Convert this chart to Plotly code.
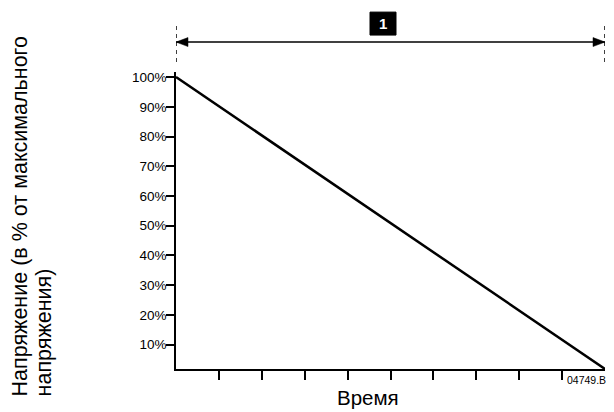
import plotly.graph_objects as go

# Data
time_points = [0, 10]
voltage_pct = [100, 1.8]
y_tick_values = [10, 20, 30, 40, 50, 60, 70, 80, 90, 100]
y_tick_labels = ["10%", "20%", "30%", "40%", "50%", "60%", "70%", "80%", "90%", "100%"]
x_tick_values = [1, 2, 3, 4, 5, 6, 7, 8, 9]
x_title = "Время"
y_title_lines = ["Напряжение (в % от максимального", "напряжения)"]
badge_label = "1"
drawing_code = "04749.B"

FONT = "Liberation Sans, Arial, sans-serif"

# page is offset by 8px body margin
W, H = 606, 404
L, R, T, B = 168, 9, 64, 42.5
PW = W - L - R
PH = H - T - B


def px(xpage):
    return (xpage - 8 - L) / PW


def py(ypage):
    return (H - B - (ypage - 8)) / PH


fig = go.Figure()
fig.add_trace(go.Scatter(
    x=time_points, y=voltage_pct, mode="lines",
    line=dict(color="black", width=2.5), showlegend=False, hoverinfo="skip",
    cliponaxis=False,
))

fig.update_layout(
    width=W, height=H,
    margin=dict(l=L, r=R, t=T, b=B),
    paper_bgcolor="white", plot_bgcolor="white",
    font=dict(family=FONT, color="black"),
    xaxis=dict(
        range=[0, 10], showgrid=False, zeroline=False,
        showline=True, linecolor="black", linewidth=1.5,
        tickmode="array", tickvals=x_tick_values, ticktext=[""] * len(x_tick_values),
        ticks="outside", ticklen=9, tickwidth=1.5, tickcolor="black",
        fixedrange=True,
    ),
    yaxis=dict(
        range=[1.8, 101.7], showgrid=False, zeroline=False,
        showline=True, linecolor="black", linewidth=1.5,
        tickmode="array", tickvals=y_tick_values, ticktext=y_tick_labels,
        ticks="outside", ticklen=8, tickwidth=1.5, tickcolor="black",
        tickfont=dict(size=13.5, family=FONT, color="black"),
        ticklabelstandoff=-3,
        fixedrange=True,
    ),
)

arrow_y = py(42)
shapes = []
# dashed boundary lines
for xv in time_points:
    shapes.append(dict(type="line", xref="x", yref="paper", x0=xv, x1=xv,
                       y0=py(62), y1=py(22),
                       line=dict(color="black", width=1.5, dash="4px,4px")))
# arrow shaft
shapes.append(dict(type="line", xref="x", yref="paper", x0=time_points[0], x1=time_points[-1],
                   y0=arrow_y, y1=arrow_y, line=dict(color="black", width=1.5)))
# arrow heads
shapes.append(dict(type="path", xref="x", yref="paper", xsizemode="pixel", ysizemode="pixel",
                   xanchor=time_points[0], yanchor=arrow_y,
                   path="M0,0 L12,4.5 L12,-4.5 Z", fillcolor="black", line=dict(color="black", width=0.5)))
shapes.append(dict(type="path", xref="x", yref="paper", xsizemode="pixel", ysizemode="pixel",
                   xanchor=time_points[-1], yanchor=arrow_y,
                   path="M0,0 L-12,4.5 L-12,-4.5 Z", fillcolor="black", line=dict(color="black", width=0.5)))
# badge box
shapes.append(dict(type="rect", xref="paper", yref="paper", x0=px(370), x1=px(396),
                   y0=py(35), y1=py(12), fillcolor="black", line=dict(color="black", width=1)))
fig.update_layout(shapes=shapes)

annotations = [
    dict(text="<b>" + badge_label + "</b>", xref="paper", yref="paper", x=px(383), y=py(23.5),
         showarrow=False, font=dict(size=15, color="white", family=FONT),
         xanchor="center", yanchor="middle"),
    dict(text=x_title, xref="paper", yref="paper", x=px(368), y=py(398),
         showarrow=False, font=dict(size=20.5, color="black", family=FONT),
         xanchor="center", yanchor="middle"),
    dict(text=drawing_code, xref="paper", yref="paper", x=px(608),
         y=py(381), showarrow=False,
         font=dict(size=10.5, color="black", family=FONT),
         xanchor="right", yanchor="middle"),
]
for line_text, xc in zip(y_title_lines, [20, 44]):
    annotations.append(dict(text=line_text, xref="paper", yref="paper",
                            x=px(xc), y=py(399),
                            showarrow=False, textangle=-90,
                            font=dict(size=21.5, color="black", family=FONT),
                            xanchor="center", yanchor="bottom"))
fig.update_layout(annotations=annotations)

fig.write_html("out.html")
